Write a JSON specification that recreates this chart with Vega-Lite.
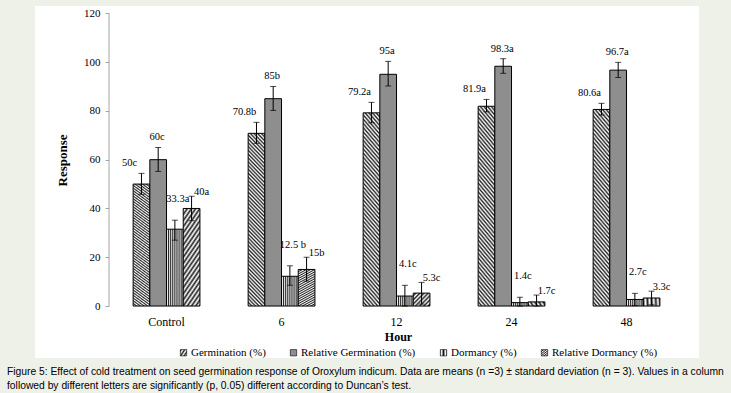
{
  "$schema": "https://vega.github.io/schema/vega-lite/v6.json",
  "width": 664,
  "height": 352,
  "autosize": {"type": "none"},
  "padding": {"left": 35, "top": 6, "right": 32, "bottom": 35},
  "background": "#edf1e8",
  "config": {"view": {"fill": "white", "stroke": null}, "font": "Liberation Serif"},
  "title": {
    "text": ["Figure 5: Effect of cold treatment on seed germination response of Oroxylum indicum. Data are means (n =3) ± standard deviation (n = 3). Values in a column", "followed by different letters are significantly (p, 0.05) different according to Duncan’s test."],
    "orient": "bottom", "anchor": "start", "frame": "group", "dx": -28, "offset": 9,
    "font": "Liberation Sans", "fontSize": 10.3, "fontWeight": "normal", "color": "black", "lineHeight": 14
  },
  "data": {"values": [
    {"Hour": "Control", "Series": "Germination (%)", "value": 50, "lo": 45.8, "hi": 54.4, "label": "50c"},
    {"Hour": "6", "Series": "Germination (%)", "value": 70.8, "lo": 66.7, "hi": 75.3, "label": "70.8b"},
    {"Hour": "12", "Series": "Germination (%)", "value": 79.2, "lo": 75.1, "hi": 83.5, "label": "79.2a"},
    {"Hour": "24", "Series": "Germination (%)", "value": 81.9, "lo": 79.6, "hi": 84.7, "label": "81.9a"},
    {"Hour": "48", "Series": "Germination (%)", "value": 80.6, "lo": 78.3, "hi": 83.1, "label": "80.6a"},
    {"Hour": "Control", "Series": "Relative Germination (%)", "value": 60, "lo": 55.2, "hi": 65, "label": "60c"},
    {"Hour": "6", "Series": "Relative Germination (%)", "value": 85, "lo": 80.2, "hi": 90, "label": "85b"},
    {"Hour": "12", "Series": "Relative Germination (%)", "value": 95, "lo": 90.2, "hi": 100.3, "label": "95a"},
    {"Hour": "24", "Series": "Relative Germination (%)", "value": 98.3, "lo": 95.4, "hi": 101.4, "label": "98.3a"},
    {"Hour": "48", "Series": "Relative Germination (%)", "value": 96.7, "lo": 93.7, "hi": 99.9, "label": "96.7a"},
    {"Hour": "Control", "Series": "Dormancy (%)", "value": 31.5, "lo": 27, "hi": 35.2, "label": "33.3a"},
    {"Hour": "6", "Series": "Dormancy (%)", "value": 12.2, "lo": 8.5, "hi": 16.5, "label": "12.5 b"},
    {"Hour": "12", "Series": "Dormancy (%)", "value": 4.1, "lo": 0, "hi": 8.5, "label": "4.1c"},
    {"Hour": "24", "Series": "Dormancy (%)", "value": 1.4, "lo": 0, "hi": 3.6, "label": "1.4c"},
    {"Hour": "48", "Series": "Dormancy (%)", "value": 2.7, "lo": 0.2, "hi": 5.2, "label": "2.7c"},
    {"Hour": "Control", "Series": "Relative Dormancy (%)", "value": 40, "lo": 35, "hi": 45, "label": "40a"},
    {"Hour": "6", "Series": "Relative Dormancy (%)", "value": 15, "lo": 10.2, "hi": 20, "label": "15b"},
    {"Hour": "12", "Series": "Relative Dormancy (%)", "value": 5.3, "lo": 0.8, "hi": 9.7, "label": "5.3c"},
    {"Hour": "24", "Series": "Relative Dormancy (%)", "value": 1.7, "lo": 0, "hi": 4.5, "label": "1.7c"},
    {"Hour": "48", "Series": "Relative Dormancy (%)", "value": 3.3, "lo": 0.5, "hi": 6.1, "label": "3.3c"}
  ]},
  "layer": [
    {
      "mark": {"type": "bar", "stroke": "black", "strokeWidth": 1},
      "encoding": {
        "x": {
          "field": "Hour", "type": "nominal", "sort": ["Control", "6", "12", "24", "48"],
          "scale": {"paddingInner": 0.274, "paddingOuter": 0.524, "align": 0.745},
          "axis": {
            "title": "Hour", "offset": -52, "domain": false, "ticks": false, "grid": false, "labelAngle": 0,
            "labelFont": "Liberation Serif", "labelFontSize": 12, "labelColor": "black", "labelPadding": 10,
            "titleFont": "Liberation Serif", "titleFontSize": 12, "titleFontWeight": "bold", "titleColor": "black",
            "titleX": 363, "titleY": 30, "titleBaseline": "middle", "titleAlign": "center"
          }
        },
        "xOffset": {
          "field": "Series", "type": "nominal",
          "sort": ["Germination (%)", "Relative Germination (%)", "Dormancy (%)", "Relative Dormancy (%)"],
          "scale": {"paddingInner": 0, "paddingOuter": 0.5}
        },
        "y": {
          "field": "value", "type": "quantitative",
          "scale": {"domain": [-21.3, 123], "nice": false, "zero": false},
          "axis": {
            "title": "Response", "offset": -74, "values": [0, 20, 40, 60, 80, 100, 120], "domain": false, "grid": false,
            "tickColor": "#a6a6a6", "tickSize": 4, "labelFont": "Liberation Serif", "labelFontSize": 11, "labelColor": "black", "labelPadding": 5,
            "titleFont": "Liberation Serif", "titleFontSize": 13, "titleFontWeight": "bold", "titleColor": "black",
            "titleX": -47, "titleY": 154, "titleAngle": -90, "titleBaseline": "middle", "titleAlign": "center"
          }
        },
        "y2": {"datum": 0},
        "fill": {
          "field": "Series", "type": "nominal",
          "sort": ["Germination (%)", "Relative Germination (%)", "Dormancy (%)", "Relative Dormancy (%)"],
          "scale": {
            "domain": ["Germination (%)", "Relative Germination (%)", "Dormancy (%)", "Relative Dormancy (%)"],
            "range": [
              {"expr": "{gradient:'linear',x1:0,y1:1,x2:0.109,y2:-0.089,stops:[{offset:0,color:'#222'},{offset:0.01,color:'#fff'},{offset:0.02,color:'#222'},{offset:0.03,color:'#fff'},{offset:0.04,color:'#222'},{offset:0.05,color:'#fff'},{offset:0.06,color:'#222'},{offset:0.07,color:'#fff'},{offset:0.08,color:'#222'},{offset:0.09,color:'#fff'},{offset:0.1,color:'#222'},{offset:0.11,color:'#fff'},{offset:0.12,color:'#222'},{offset:0.13,color:'#fff'},{offset:0.14,color:'#222'},{offset:0.15,color:'#fff'},{offset:0.16,color:'#222'},{offset:0.17,color:'#fff'},{offset:0.18,color:'#222'},{offset:0.19,color:'#fff'},{offset:0.2,color:'#222'},{offset:0.21,color:'#fff'},{offset:0.22,color:'#222'},{offset:0.23,color:'#fff'},{offset:0.24,color:'#222'},{offset:0.25,color:'#fff'},{offset:0.26,color:'#222'},{offset:0.27,color:'#fff'},{offset:0.28,color:'#222'},{offset:0.29,color:'#fff'},{offset:0.3,color:'#222'},{offset:0.31,color:'#fff'},{offset:0.32,color:'#222'},{offset:0.33,color:'#fff'},{offset:0.34,color:'#222'},{offset:0.35,color:'#fff'},{offset:0.36,color:'#222'},{offset:0.37,color:'#fff'},{offset:0.38,color:'#222'},{offset:0.39,color:'#fff'},{offset:0.4,color:'#222'},{offset:0.41,color:'#fff'},{offset:0.42,color:'#222'},{offset:0.43,color:'#fff'},{offset:0.44,color:'#222'},{offset:0.45,color:'#fff'},{offset:0.46,color:'#222'},{offset:0.47,color:'#fff'},{offset:0.48,color:'#222'},{offset:0.49,color:'#fff'},{offset:0.5,color:'#222'},{offset:0.51,color:'#fff'},{offset:0.52,color:'#222'},{offset:0.53,color:'#fff'},{offset:0.54,color:'#222'},{offset:0.55,color:'#fff'},{offset:0.56,color:'#222'},{offset:0.57,color:'#fff'},{offset:0.58,color:'#222'},{offset:0.59,color:'#fff'},{offset:0.6,color:'#222'},{offset:0.61,color:'#fff'},{offset:0.62,color:'#222'},{offset:0.63,color:'#fff'},{offset:0.64,color:'#222'},{offset:0.65,color:'#fff'},{offset:0.66,color:'#222'},{offset:0.67,color:'#fff'},{offset:0.68,color:'#222'},{offset:0.69,color:'#fff'},{offset:0.7,color:'#222'},{offset:0.71,color:'#fff'},{offset:0.72,color:'#222'},{offset:0.73,color:'#fff'},{offset:0.74,color:'#222'},{offset:0.75,color:'#fff'},{offset:0.76,color:'#222'},{offset:0.77,color:'#fff'},{offset:0.78,color:'#222'},{offset:0.79,color:'#fff'},{offset:0.8,color:'#222'},{offset:0.81,color:'#fff'},{offset:0.82,color:'#222'},{offset:0.83,color:'#fff'},{offset:0.84,color:'#222'},{offset:0.85,color:'#fff'},{offset:0.86,color:'#222'},{offset:0.87,color:'#fff'},{offset:0.88,color:'#222'},{offset:0.89,color:'#fff'},{offset:0.9,color:'#222'},{offset:0.91,color:'#fff'},{offset:0.92,color:'#222'},{offset:0.93,color:'#fff'},{offset:0.94,color:'#222'},{offset:0.95,color:'#fff'},{offset:0.96,color:'#222'},{offset:0.97,color:'#fff'},{offset:0.98,color:'#222'},{offset:0.99,color:'#fff'},{offset:1,color:'#222'}]}"},
              "#8e8e8e",
              {"expr": "{gradient:'linear',x1:0,y1:0,x2:1,y2:0,stops:[{offset:0,color:'#111'},{offset:0.0625,color:'#fff'},{offset:0.125,color:'#111'},{offset:0.1875,color:'#fff'},{offset:0.25,color:'#111'},{offset:0.3125,color:'#fff'},{offset:0.375,color:'#111'},{offset:0.4375,color:'#fff'},{offset:0.5,color:'#111'},{offset:0.5625,color:'#fff'},{offset:0.625,color:'#111'},{offset:0.6875,color:'#fff'},{offset:0.75,color:'#111'},{offset:0.8125,color:'#fff'},{offset:0.875,color:'#111'},{offset:0.9375,color:'#fff'},{offset:1,color:'#111'}]}"},
              {"expr": "{gradient:'linear',x1:0,y1:0,x2:0.294,y2:1.176,stops:[{offset:0,color:'#222'},{offset:0.025,color:'#fff'},{offset:0.05,color:'#222'},{offset:0.075,color:'#fff'},{offset:0.1,color:'#222'},{offset:0.125,color:'#fff'},{offset:0.15,color:'#222'},{offset:0.175,color:'#fff'},{offset:0.2,color:'#222'},{offset:0.225,color:'#fff'},{offset:0.25,color:'#222'},{offset:0.275,color:'#fff'},{offset:0.3,color:'#222'},{offset:0.325,color:'#fff'},{offset:0.35,color:'#222'},{offset:0.375,color:'#fff'},{offset:0.4,color:'#222'},{offset:0.425,color:'#fff'},{offset:0.45,color:'#222'},{offset:0.475,color:'#fff'},{offset:0.5,color:'#222'},{offset:0.525,color:'#fff'},{offset:0.55,color:'#222'},{offset:0.575,color:'#fff'},{offset:0.6,color:'#222'},{offset:0.625,color:'#fff'},{offset:0.65,color:'#222'},{offset:0.675,color:'#fff'},{offset:0.7,color:'#222'},{offset:0.725,color:'#fff'},{offset:0.75,color:'#222'},{offset:0.775,color:'#fff'},{offset:0.8,color:'#222'},{offset:0.825,color:'#fff'},{offset:0.85,color:'#222'},{offset:0.875,color:'#fff'},{offset:0.9,color:'#222'},{offset:0.925,color:'#fff'},{offset:0.95,color:'#222'},{offset:0.975,color:'#fff'},{offset:1,color:'#222'}]}"}
            ]
          },
          "legend": {
            "title": null, "orient": "none", "legendX": 143, "legendY": 341, "direction": "horizontal",
            "symbolType": "square", "symbolSize": 40, "symbolStrokeColor": "black", "symbolStrokeWidth": 0.6,
            "labelFont": "Liberation Serif", "labelFontSize": 11, "labelColor": "black", "labelOffset": 2, "columnPadding": 22
          }
        }
      }
    },
    {
      "data": {"values": [{}]},
      "mark": {"type": "rule", "color": "#a6a6a6", "strokeWidth": 1},
      "encoding": {
        "x": {"datum": "Control", "type": "nominal", "bandPosition": -0.189},
        "y": {"datum": 0, "type": "quantitative"},
        "y2": {"datum": 120}
      }
    },
    {
      "mark": {"type": "rule", "color": "black", "strokeWidth": 1},
      "encoding": {
        "x": {"field": "Hour", "type": "nominal", "sort": ["Control", "6", "12", "24", "48"]},
        "xOffset": {"field": "Series", "type": "nominal", "sort": ["Germination (%)", "Relative Germination (%)", "Dormancy (%)", "Relative Dormancy (%)"]},
        "y": {"field": "lo", "type": "quantitative"},
        "y2": {"field": "hi"}
      }
    },
    {
      "mark": {"type": "tick", "color": "black", "thickness": 1, "size": 6, "orient": "horizontal"},
      "encoding": {
        "x": {"field": "Hour", "type": "nominal", "sort": ["Control", "6", "12", "24", "48"]},
        "xOffset": {"field": "Series", "type": "nominal", "sort": ["Germination (%)", "Relative Germination (%)", "Dormancy (%)", "Relative Dormancy (%)"]},
        "y": {"field": "hi", "type": "quantitative"}
      }
    },
    {
      "mark": {"type": "tick", "color": "black", "thickness": 1, "size": 6, "orient": "horizontal"},
      "encoding": {
        "x": {"field": "Hour", "type": "nominal", "sort": ["Control", "6", "12", "24", "48"]},
        "xOffset": {"field": "Series", "type": "nominal", "sort": ["Germination (%)", "Relative Germination (%)", "Dormancy (%)", "Relative Dormancy (%)"]},
        "y": {"field": "lo", "type": "quantitative"}
      }
    },
    {
      "transform": [{"filter": "datum.Series === 'Germination (%)'"}],
      "mark": {"type": "text", "dx": -12, "dy": -10, "font": "Liberation Serif", "fontSize": 10.5, "color": "black"},
      "encoding": {
        "x": {"field": "Hour", "type": "nominal", "sort": ["Control", "6", "12", "24", "48"]},
        "xOffset": {"field": "Series", "type": "nominal", "sort": ["Germination (%)", "Relative Germination (%)", "Dormancy (%)", "Relative Dormancy (%)"]},
        "y": {"field": "hi", "type": "quantitative"},
        "text": {"field": "label"}
      }
    },
    {
      "transform": [{"filter": "datum.Series === 'Relative Germination (%)'"}],
      "mark": {"type": "text", "dx": -1, "dy": -10, "font": "Liberation Serif", "fontSize": 10.5, "color": "black"},
      "encoding": {
        "x": {"field": "Hour", "type": "nominal", "sort": ["Control", "6", "12", "24", "48"]},
        "xOffset": {"field": "Series", "type": "nominal", "sort": ["Germination (%)", "Relative Germination (%)", "Dormancy (%)", "Relative Dormancy (%)"]},
        "y": {"field": "hi", "type": "quantitative"},
        "text": {"field": "label"}
      }
    },
    {
      "transform": [{"filter": "datum.Series === 'Dormancy (%)'"}],
      "mark": {"type": "text", "dx": 3, "dy": -21, "font": "Liberation Serif", "fontSize": 10.5, "color": "black"},
      "encoding": {
        "x": {"field": "Hour", "type": "nominal", "sort": ["Control", "6", "12", "24", "48"]},
        "xOffset": {"field": "Series", "type": "nominal", "sort": ["Germination (%)", "Relative Germination (%)", "Dormancy (%)", "Relative Dormancy (%)"]},
        "y": {"field": "hi", "type": "quantitative"},
        "text": {"field": "label"}
      }
    },
    {
      "transform": [{"filter": "datum.Series === 'Relative Dormancy (%)'"}],
      "mark": {"type": "text", "dx": 10, "dy": -4, "font": "Liberation Serif", "fontSize": 10.5, "color": "black"},
      "encoding": {
        "x": {"field": "Hour", "type": "nominal", "sort": ["Control", "6", "12", "24", "48"]},
        "xOffset": {"field": "Series", "type": "nominal", "sort": ["Germination (%)", "Relative Germination (%)", "Dormancy (%)", "Relative Dormancy (%)"]},
        "y": {"field": "hi", "type": "quantitative"},
        "text": {"field": "label"}
      }
    }
  ]
}
